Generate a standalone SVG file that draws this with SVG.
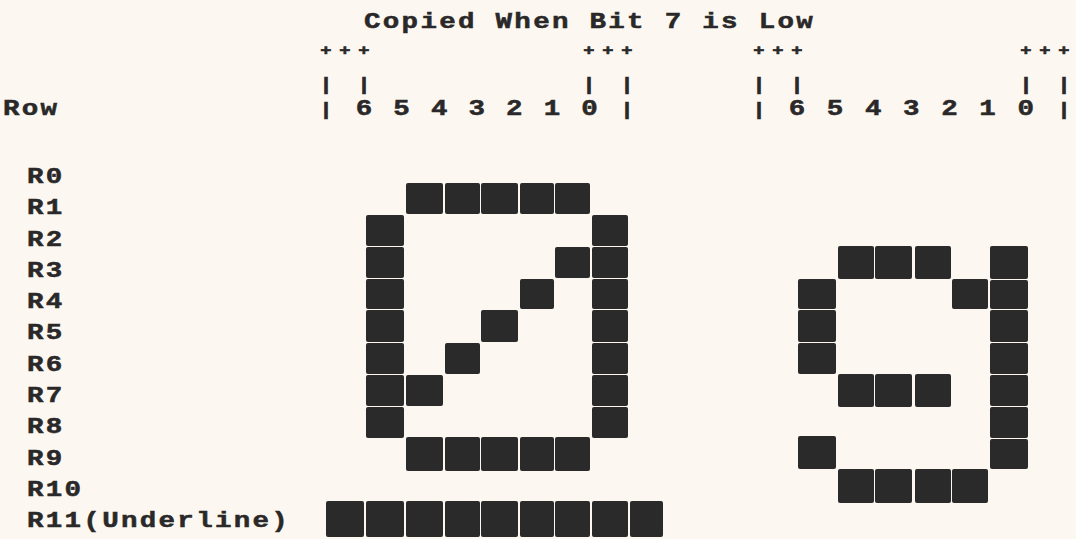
<svg xmlns="http://www.w3.org/2000/svg" width="1076" height="539" viewBox="0 0 1076 539">
<style>
.bg{fill:#fcf8f1}
.t{font-family:"Liberation Mono","DejaVu Sans Mono",monospace;font-weight:bold;font-size:22px;fill:#2a2828;stroke:#2a2828;stroke-width:0.5px;letter-spacing:1.84px}
.c{font-family:"Liberation Mono","DejaVu Sans Mono",monospace;font-weight:bold;font-size:22px;fill:#2a2828;stroke:#2a2828;stroke-width:0.5px;text-anchor:middle}
.p{font-family:"Liberation Mono","DejaVu Sans Mono",monospace;font-weight:bold;font-size:15px;fill:#2a2828;stroke:#2a2828;stroke-width:0.6px;text-anchor:middle}
.b{font-family:"Liberation Mono","DejaVu Sans Mono",monospace;font-weight:bold;font-size:18px;fill:#2a2828;stroke:#2a2828;stroke-width:0.6px;text-anchor:middle}
.px{fill:#2b2a2a}
</style>
<rect class="bg" x="0" y="0" width="1076" height="539"/>
<g id="header" transform="scale(1.25 1)">
<text class="t" x="291.2" y="28">Copied When Bit 7 is Low</text>
<g id="plus-marks">
<text class="p" x="260.8" y="55">+</text><text class="p" x="276" y="55">+</text><text class="p" x="291.2" y="55">+</text>
<text class="p" x="471.2" y="55">+</text><text class="p" x="486.4" y="55">+</text><text class="p" x="501.6" y="55">+</text>
<text class="p" x="607.2" y="55">+</text><text class="p" x="622.4" y="55">+</text><text class="p" x="637.6" y="55">+</text>
<text class="p" x="820.8" y="55">+</text><text class="p" x="836" y="55">+</text><text class="p" x="851.2" y="55">+</text>
</g>
<g id="bar-marks">
<text class="b" x="260.8" y="90">|</text><text class="b" x="291.2" y="90">|</text>
<text class="b" x="471.2" y="90">|</text><text class="b" x="501.6" y="90">|</text>
<text class="b" x="607.2" y="90">|</text><text class="b" x="637.6" y="90">|</text>
<text class="b" x="820.8" y="90">|</text><text class="b" x="851.2" y="90">|</text>
</g>
<g id="bit-row">
<text class="t" x="2.4" y="115">Row</text>
<text class="b" x="260.8" y="115">|</text><text class="b" x="501.6" y="115">|</text>
<text class="c" x="291.2" y="115">6</text><text class="c" x="321.3" y="115">5</text><text class="c" x="351.4" y="115">4</text><text class="c" x="381.4" y="115">3</text><text class="c" x="411.5" y="115">2</text><text class="c" x="441.6" y="115">1</text><text class="c" x="471.7" y="115">0</text>
<text class="b" x="607.2" y="115">|</text><text class="b" x="851.2" y="115">|</text>
<text class="c" x="637.6" y="115">6</text><text class="c" x="668.1" y="115">5</text><text class="c" x="698.6" y="115">4</text><text class="c" x="729.1" y="115">3</text><text class="c" x="759.6" y="115">2</text><text class="c" x="790.1" y="115">1</text><text class="c" x="820.6" y="115">0</text>
</g>
</g>
<g id="row-labels" transform="scale(1.25 1)">
<text class="t" x="21.6" y="183">R0</text>
<text class="t" x="21.6" y="214.3">R1</text>
<text class="t" x="21.6" y="245.6">R2</text>
<text class="t" x="21.6" y="276.9">R3</text>
<text class="t" x="21.6" y="308.2">R4</text>
<text class="t" x="21.6" y="339.5">R5</text>
<text class="t" x="21.6" y="370.8">R6</text>
<text class="t" x="21.6" y="402.1">R7</text>
<text class="t" x="21.6" y="433.4">R8</text>
<text class="t" x="21.6" y="464.7">R9</text>
<text class="t" x="21.6" y="496">R10</text>
<text class="t" x="21.6" y="527.3">R11(Underline)</text>
</g>
<g id="glyph-slashed-zero">
<rect class="px" x="406" y="183" width="37" height="31" rx="2"/><rect class="px" x="445" y="183" width="35" height="31" rx="2"/><rect class="px" x="481" y="183" width="37" height="31" rx="2"/><rect class="px" x="520" y="183" width="34" height="31" rx="2"/><rect class="px" x="555" y="183" width="35" height="31" rx="2"/>
<rect class="px" x="366" y="215" width="38" height="31" rx="2"/><rect class="px" x="592" y="215" width="36" height="31" rx="2"/>
<rect class="px" x="366" y="247" width="38" height="31" rx="2"/><rect class="px" x="555" y="247" width="35" height="31" rx="2"/><rect class="px" x="592" y="247" width="36" height="31" rx="2"/>
<rect class="px" x="366" y="279" width="38" height="30" rx="2"/><rect class="px" x="520" y="279" width="34" height="30" rx="2"/><rect class="px" x="592" y="279" width="36" height="30" rx="2"/>
<rect class="px" x="366" y="310" width="38" height="32" rx="2"/><rect class="px" x="481" y="310" width="37" height="32" rx="2"/><rect class="px" x="592" y="310" width="36" height="32" rx="2"/>
<rect class="px" x="366" y="343" width="38" height="31" rx="2"/><rect class="px" x="445" y="343" width="35" height="31" rx="2"/><rect class="px" x="592" y="343" width="36" height="31" rx="2"/>
<rect class="px" x="366" y="375" width="38" height="31" rx="2"/><rect class="px" x="406" y="375" width="37" height="31" rx="2"/><rect class="px" x="592" y="375" width="36" height="31" rx="2"/>
<rect class="px" x="366" y="407" width="38" height="31" rx="2"/><rect class="px" x="592" y="407" width="36" height="31" rx="2"/>
<rect class="px" x="406" y="437" width="37" height="34" rx="2"/><rect class="px" x="445" y="437" width="35" height="34" rx="2"/><rect class="px" x="481" y="437" width="37" height="34" rx="2"/><rect class="px" x="520" y="437" width="34" height="34" rx="2"/><rect class="px" x="555" y="437" width="35" height="34" rx="2"/>
<rect class="px" x="326" y="501" width="38" height="36" rx="2"/><rect class="px" x="366" y="501" width="38" height="36" rx="2"/><rect class="px" x="406" y="501" width="37" height="36" rx="2"/><rect class="px" x="445" y="501" width="35" height="36" rx="2"/><rect class="px" x="481" y="501" width="37" height="36" rx="2"/><rect class="px" x="520" y="501" width="34" height="36" rx="2"/><rect class="px" x="555" y="501" width="35" height="36" rx="2"/><rect class="px" x="592" y="501" width="36" height="36" rx="2"/><rect class="px" x="630" y="501" width="33" height="36" rx="2"/>
</g>
<g id="glyph-nine">
<rect class="px" x="838" y="246" width="36" height="33" rx="2"/><rect class="px" x="875" y="246" width="37" height="33" rx="2"/><rect class="px" x="915" y="246" width="36" height="33" rx="2"/><rect class="px" x="990" y="246" width="38" height="33" rx="2"/>
<rect class="px" x="798" y="279" width="38" height="30" rx="2"/><rect class="px" x="952" y="279" width="36" height="30" rx="2"/><rect class="px" x="990" y="280" width="38" height="29" rx="2"/>
<rect class="px" x="798" y="310" width="38" height="32" rx="2"/><rect class="px" x="990" y="310" width="38" height="32" rx="2"/>
<rect class="px" x="798" y="343" width="38" height="31" rx="2"/><rect class="px" x="990" y="343" width="38" height="31" rx="2"/>
<rect class="px" x="838" y="374" width="36" height="33" rx="2"/><rect class="px" x="875" y="374" width="37" height="33" rx="2"/><rect class="px" x="915" y="374" width="36" height="33" rx="2"/><rect class="px" x="990" y="375" width="38" height="31" rx="2"/>
<rect class="px" x="990" y="407" width="38" height="31" rx="2"/>
<rect class="px" x="798" y="436" width="38" height="33" rx="2"/><rect class="px" x="990" y="439" width="38" height="30" rx="2"/>
<rect class="px" x="838" y="469" width="36" height="34" rx="2"/><rect class="px" x="875" y="469" width="37" height="34" rx="2"/><rect class="px" x="915" y="469" width="36" height="34" rx="2"/><rect class="px" x="952" y="469" width="36" height="34" rx="2"/>
</g>
</svg>
